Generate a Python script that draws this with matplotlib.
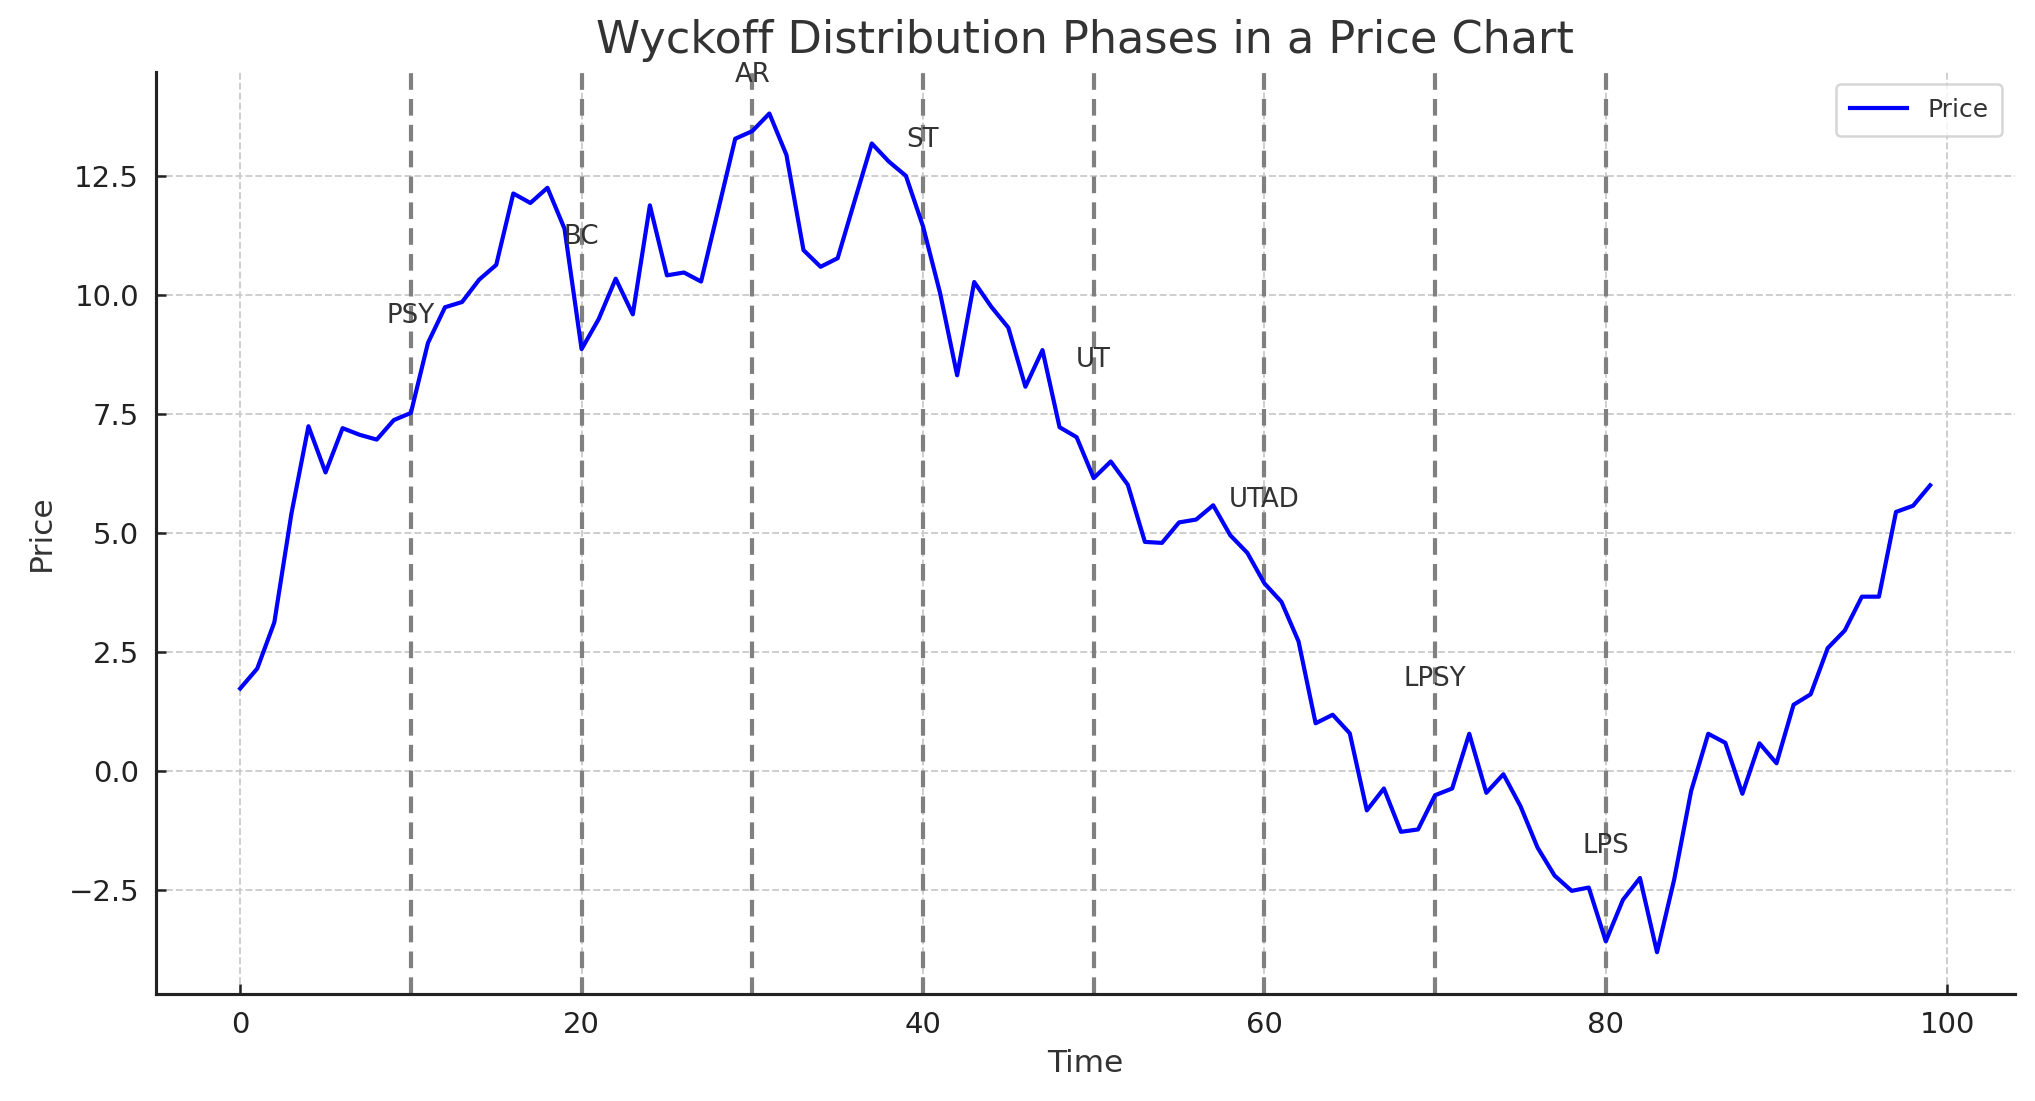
import matplotlib
matplotlib.use("Agg")
import matplotlib.pyplot as plt
import numpy as np

# ---- data ----
time = list(range(100))
price = [
    1.73, 2.15, 3.12, 5.40, 7.24, 6.27, 7.20, 7.06, 6.96, 7.37,
    7.52, 8.99, 9.74, 9.85, 10.32, 10.63, 12.13, 11.93, 12.25, 11.39,
    8.86, 9.49, 10.34, 9.59, 11.88, 10.41, 10.47, 10.28, 11.78, 13.28,
    13.44, 13.81, 12.94, 10.94, 10.59, 10.77, 11.98, 13.18, 12.80, 12.50,
    11.44, 10.04, 8.31, 10.27, 9.75, 9.31, 8.07, 8.84, 7.22, 7.01,
    6.15, 6.50, 6.01, 4.81, 4.79, 5.22, 5.28, 5.58, 4.95, 4.58,
    3.94, 3.55, 2.72, 1.00, 1.18, 0.79, -0.83, -0.37, -1.28, -1.23,
    -0.51, -0.37, 0.78, -0.46, -0.07, -0.74, -1.61, -2.20, -2.52, -2.45,
    -3.58, -2.71, -2.25, -3.81, -2.29, -0.42, 0.78, 0.59, -0.48, 0.58,
    0.16, 1.39, 1.61, 2.58, 2.95, 3.66, 3.66, 5.44, 5.57, 6.00,
]
phase_labels = ["PSY", "BC", "AR", "ST", "UT", "UTAD", "LPSY", "LPS"]
phase_times = [10, 20, 30, 40, 50, 60, 70, 80]
label_y = [9.56, 11.22, 14.62, 13.26, 8.63, 5.69, 1.93, -1.58]

# ---- style ----
text_color = "#333333"
plt.rcParams["font.family"] = ["DejaVu Sans"]

fig = plt.figure(figsize=(2035 / 150, 1101 / 150), dpi=150)
ax = fig.add_axes([0.0765, 0.097, 0.9135, 0.838])

ax.plot(time, price, color="blue", linewidth=2.0, label="Price", zorder=3)

for t in phase_times:
    ax.axvline(t, color="gray", linestyle="--", linewidth=2.0, dashes=(4, 2.2), zorder=2)

for lab, t, y in zip(phase_labels, phase_times, label_y):
    ax.text(t, y, lab, ha="center", va="center", fontsize=12.5, color=text_color, zorder=4)

ax.set_title("Wyckoff Distribution Phases in a Price Chart", fontsize=21.4, color=text_color, pad=9)
ax.set_xlabel("Time", fontsize=15, color=text_color, labelpad=5)
ax.set_ylabel("Price", fontsize=15, color=text_color, labelpad=6)

ax.grid(True, linestyle="--", color="#cccccc", linewidth=0.9, zorder=0)
for s in ["top", "right"]:
    ax.spines[s].set_visible(False)
for s in ["left", "bottom"]:
    ax.spines[s].set_color("#222222")
    ax.spines[s].set_linewidth(1.5)

ax.tick_params(axis="both", direction="in", length=5, width=1.2, labelsize=14,
               colors="#222222", labelcolor="#222222", pad=8)
ax.set_yticks([-2.5, 0.0, 2.5, 5.0, 7.5, 10.0, 12.5])
ax.set_xticks([0, 20, 40, 60, 80, 100])

leg = ax.legend(loc="upper right", fontsize=12, frameon=True, fancybox=True,
                borderpad=0.55, handlelength=2.3)
leg.get_frame().set_edgecolor("#cccccc")
leg.get_frame().set_linewidth(1.2)
for txt in leg.get_texts():
    txt.set_color(text_color)

fig.savefig("out.png", dpi=150)
